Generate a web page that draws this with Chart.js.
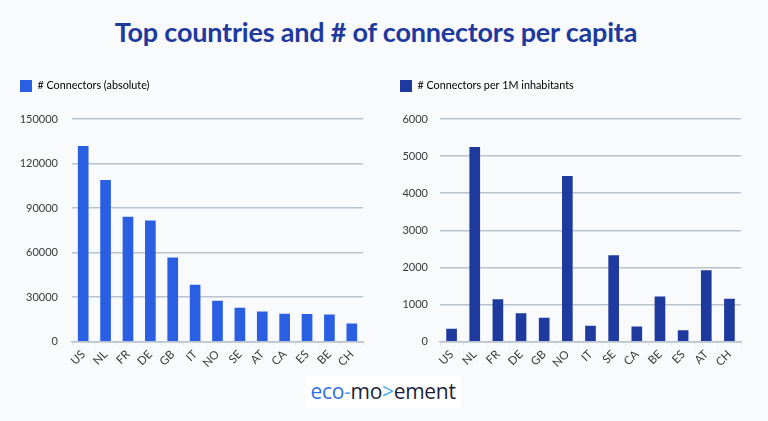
<!DOCTYPE html>
<html><head><meta charset="utf-8">
<script src="https://cdn.jsdelivr.net/npm/chart.js@4/dist/chart.umd.min.js"></script>
<style>
html,body{margin:0;padding:0;background:#f8fafb;}
body{width:768px;height:421px;position:relative;overflow:hidden;font-family:Lato,sans-serif;}
#title{position:absolute;left:-8px;top:15px;width:768px;text-align:center;font-weight:bold;font-size:27px;color:#1f3a9f;letter-spacing:-0.2px;}
#c1wrap{position:absolute;left:0;top:70px;width:384px;height:302px;}
#c2wrap{position:absolute;left:384px;top:70px;width:384px;height:302px;}
#logo{position:absolute;left:305px;top:376px;width:156px;height:32px;background:#fff;text-align:center;font-family:"Open Sans",sans-serif;font-size:21px;line-height:31px;color:#1c1f3a;letter-spacing:-0.3px;}
#logo .b{color:#2f6fe0}#logo .l{color:#49a8f0}
</style></head>
<body>
<div id="title">Top countries and # of connectors per capita</div>
<div id="c1wrap"><canvas id="c1"></canvas></div>
<div id="c2wrap"><canvas id="c2"></canvas></div>
<div id="logo"><span class="b">eco</span><span class="l">-</span>mo<span class="l">&gt;</span>ement</div>
<script>
const countriesAbs = ["US","NL","FR","DE","GB","IT","NO","SE","AT","CA","ES","BE","CH"];
const connectorsAbs = [131500,108600,83900,81400,56500,38000,27300,22500,20000,18500,18300,18000,11900];
const countriesPerCap = ["US","NL","FR","DE","GB","NO","IT","SE","CA","BE","ES","AT","CH"];
const connectorsPerCap = [333,5234,1133,755,630,4451,414,2320,396,1205,297,1915,1142];
const absTicks = {max:150000, step:30000};
const capTicks = {max:6000, step:1000};

const legendMargin = {id:'legendMargin', beforeInit(chart){
  const orig = chart.legend.fit;
  chart.legend.fit = function(){ orig.bind(chart.legend)(); this.height += 17; };
}};

function make(id, labels, data, label, color, ticks, padLeft, padRight, yWidth, yPad){
  return new Chart(document.getElementById(id), {
    type:'bar',
    data:{labels:labels, datasets:[{label:label, data:data, backgroundColor:color, borderWidth:0, barThickness:10}]},
    plugins:[legendMargin],
    options:{
      responsive:true, maintainAspectRatio:false, animation:false,
      layout:{padding:{left:padLeft, right:padRight, top:4, bottom:0}},
      plugins:{
        legend:{position:'top', align:'start',
          labels:{boxWidth:12, boxHeight:12, padding:6, color:'#333', font:{family:'Lato', size:10.8},
            generateLabels:(c)=>[{text:label, fillStyle:color, strokeStyle:color, lineWidth:0, datasetIndex:0}]}},
        tooltip:{enabled:false}
      },
      scales:{
        y:{min:0, max:ticks.max,
           afterFit:(s)=>{s.width = yWidth;},
           ticks:{stepSize:ticks.step, color:'#3a3a3a', font:{family:'Lato', size:11}, padding:yPad, callback:(v)=>String(v)},
           grid:{color:'#b9c3ce', lineWidth:1.5, drawTicks:false},
           border:{display:false}},
        x:{ticks:{color:'#3a3a3a', font:{family:'Lato', size:11.5}, maxRotation:45, minRotation:45, padding:2, autoSkip:false},
           grid:{display:true, drawOnChartArea:false, color:'#dde3e8', tickLength:4},
           border:{display:true, color:'#b9c3ce', width:1.5}}
      }
    }
  });
}
make('c1', countriesAbs, connectorsAbs, '# Connectors (absolute)', '#2a5ee3', absTicks, 14, 21, 58, 14);
make('c2', countriesPerCap, connectorsPerCap, '# Connectors per 1M inhabitants', '#1f3a9e', capTicks, 10, 27, 46, 12);
</script>
</body></html>
